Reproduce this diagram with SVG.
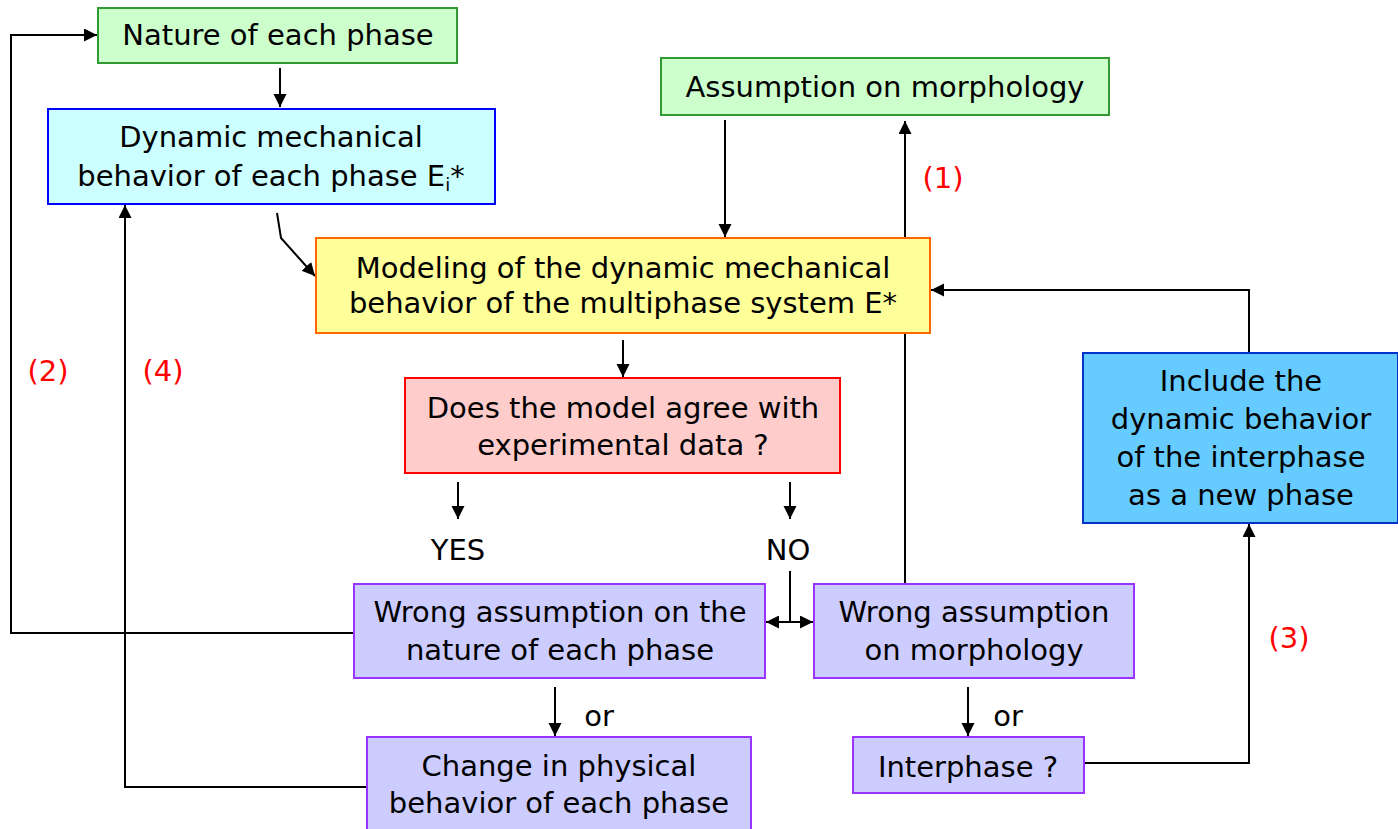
<svg xmlns="http://www.w3.org/2000/svg" width="1398" height="829" viewBox="0 0 1398 829">
  <defs>
    <marker id="arrow" markerWidth="14" markerHeight="14" refX="13" refY="6.5" orient="auto" markerUnits="userSpaceOnUse">
      <path d="M0,0 L13,6.5 L0,13 Z" fill="#000"/>
    </marker>
    <marker id="arrowStart" markerWidth="14" markerHeight="14" refX="0" refY="6.5" orient="auto" markerUnits="userSpaceOnUse">
      <path d="M13,0 L0,6.5 L13,13 Z" fill="#000"/>
    </marker>
  </defs>
  <style>
    text { font-family: "Comic Sans MS", "DejaVu Sans", "Noto Sans", sans-serif; font-size: 29px; fill: #000; text-anchor: middle; }
    .num { fill: #ff0000; }
    .box { stroke-width: 2; }
    .green { fill: #ccffcc; stroke: #339933; }
    .cyan { fill: #ccffff; stroke: #0000ff; }
    .yellow { fill: #ffff99; stroke: #ff6600; }
    .pink { fill: #ffcccc; stroke: #ff0000; }
    .blue { fill: #66ccff; stroke: #0033cc; }
    .lilac { fill: #ccccff; stroke: #9933ff; }
    .wire { fill: none; stroke: #000; stroke-width: 2; }
  </style>

  <rect width="1398" height="829" fill="#ffffff"/>

  <!-- connectors -->
  <g id="connectors">
    <!-- (2) loop back to the nature of each phase -->
    <polyline class="wire" points="354,633 11,633 11,35 97,35" marker-end="url(#arrow)"/>
    <line class="wire" x1="280" y1="68" x2="280" y2="107" marker-end="url(#arrow)"/>
    <!-- (4) loop back to the phase behaviour -->
    <polyline class="wire" points="367,787 125,787 125,205" marker-end="url(#arrow)"/>
    <polyline class="wire" points="277,213 281,238 315,276" marker-end="url(#arrow)"/>
    <line class="wire" x1="725" y1="120" x2="725" y2="237" marker-end="url(#arrow)"/>
    <!-- (1) back to the morphology assumption -->
    <line class="wire" x1="905" y1="584" x2="905" y2="121" marker-end="url(#arrow)"/>
    <!-- (3) interphase included as a new phase -->
    <polyline class="wire" points="1249,353 1249,290 931,290" marker-end="url(#arrow)"/>
    <polyline class="wire" points="1084,763 1249,763 1249,524" marker-end="url(#arrow)"/>
    <line class="wire" x1="623" y1="340" x2="623" y2="377" marker-end="url(#arrow)"/>
    <line class="wire" x1="458" y1="482" x2="458" y2="519" marker-end="url(#arrow)"/>
    <line class="wire" x1="790" y1="482" x2="790" y2="519" marker-end="url(#arrow)"/>
    <line class="wire" x1="790" y1="571" x2="790" y2="622"/>
    <line class="wire" x1="766" y1="622" x2="813" y2="622" marker-start="url(#arrowStart)" marker-end="url(#arrow)"/>
    <line class="wire" x1="555" y1="687" x2="555" y2="736" marker-end="url(#arrow)"/>
    <line class="wire" x1="968" y1="687" x2="968" y2="736" marker-end="url(#arrow)"/>
  </g>

  <g id="nature">
    <rect class="box green" x="98" y="8" width="359" height="55"/>
    <text x="278" y="45">Nature of each phase</text>
  </g>

  <g id="phase-behavior">
    <rect class="box cyan" x="48" y="109" width="447" height="95"/>
    <text x="271" y="147">Dynamic mechanical</text>
    <text x="271" y="186">behavior of each phase E<tspan font-size="18" dy="5">i</tspan><tspan dy="-5">*</tspan></text>
  </g>

  <g id="morphology">
    <rect class="box green" x="661" y="58" width="448" height="57"/>
    <text x="885" y="97">Assumption on morphology</text>
  </g>

  <g id="modeling">
    <rect class="box yellow" x="316" y="238" width="614" height="95"/>
    <text x="623" y="278">Modeling of the dynamic mechanical</text>
    <text x="623" y="313">behavior of the multiphase system E*</text>
  </g>

  <g id="agree">
    <rect class="box pink" x="405" y="378" width="435" height="95"/>
    <text x="623" y="418">Does the model agree with</text>
    <text x="623" y="455">experimental data ?</text>
  </g>

  <g id="interphase-phase">
    <rect class="box blue" x="1083" y="353" width="315" height="170"/>
    <text x="1241" y="391">Include the</text>
    <text x="1241" y="429">dynamic behavior</text>
    <text x="1241" y="467">of the interphase</text>
    <text x="1241" y="505">as a new phase</text>
  </g>

  <g id="wrong-nature">
    <rect class="box lilac" x="354" y="584" width="411" height="94"/>
    <text x="560" y="622">Wrong assumption on the</text>
    <text x="560" y="660">nature of each phase</text>
  </g>

  <g id="wrong-morphology">
    <rect class="box lilac" x="814" y="584" width="320" height="94"/>
    <text x="974" y="622">Wrong assumption</text>
    <text x="974" y="660">on morphology</text>
  </g>

  <g id="physical-change">
    <rect class="box lilac" x="367" y="737" width="384" height="100"/>
    <text x="559" y="776">Change in physical</text>
    <text x="559" y="813">behavior of each phase</text>
  </g>

  <g id="interphase">
    <rect class="box lilac" x="853" y="737" width="231" height="56"/>
    <text x="968" y="777">Interphase ?</text>
  </g>

  <!-- labels -->
  <g id="labels">
    <text class="num" x="943" y="188">(1)</text>
    <text class="num" x="48" y="381">(2)</text>
    <text class="num" x="163" y="381">(4)</text>
    <text class="num" x="1289" y="648">(3)</text>
    <text x="458" y="560">YES</text>
    <text x="788" y="560">NO</text>
    <text x="599" y="726">or</text>
    <text x="1008" y="726">or</text>
  </g>
</svg>
